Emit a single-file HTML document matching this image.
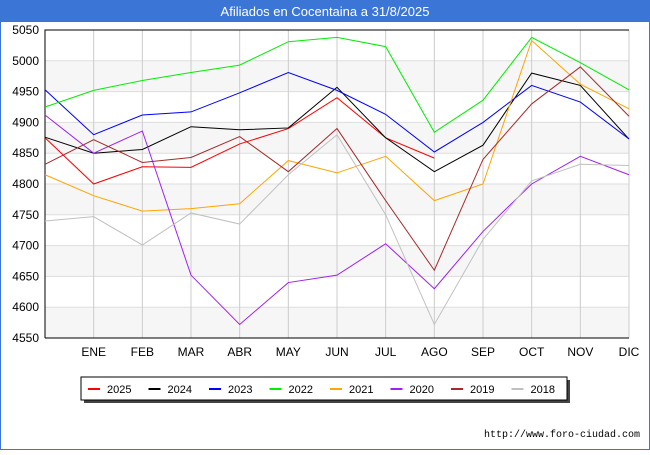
<!DOCTYPE html>
<html><head><meta charset="utf-8"><style>
body{margin:0;background:#fff;font-family:"Liberation Sans","DejaVu Sans",sans-serif}
</style></head><body>
<svg width="650" height="450" xmlns="http://www.w3.org/2000/svg">
<rect x="0" y="0" width="650" height="450" fill="#fff" stroke="#3b75d6" stroke-width="2"/>
<rect x="0" y="0" width="650" height="22" fill="#3b75d6"/>
<text x="325" y="16" text-anchor="middle" fill="#fff" font-size="13">Afiliados en Cocentaina a 31/8/2025</text>
<g id="bands"></g><g id="grid"></g><g id="axes"></g><g id="lines"></g>
<rect x="84" y="380" width="486" height="23" fill="#444"/>
<rect x="81" y="377" width="486" height="23" fill="#fff" stroke="#000"/>
<g id="legend"></g>
<text x="640" y="437" text-anchor="end" font-size="10" fill="#000" font-family="Liberation Mono, monospace">http://www.foro-ciudad.com</text>
</svg>
<script>
const months=["","ENE","FEB","MAR","ABR","MAY","JUN","JUL","AGO","SEP","OCT","NOV","DIC"];
const yTicks=[4550,4600,4650,4700,4750,4800,4850,4900,4950,5000,5050];
const years=["2025","2024","2023","2022","2021","2020","2019","2018"];
const colors=["#ff0000","#000000","#0000ff","#00ee00","#ffa500","#a020f0","#a52a2a","#c0c0c0"];
const s2025=[4875,4800,4828,4827,4865,4890,4940,4875,4842];
const s2024=[4876,4850,4856,4893,4888,4891,4957,4875,4820,4863,4980,4960,4873];
const s2023=[4953,4880,4912,4917,4948,4981,4952,4913,4852,4900,4960,4933,4873];
const s2022=[4925,4952,4968,4981,4993,5031,5038,5023,4884,4936,5038,4997,4953];
const s2021=[4815,4781,4756,4760,4768,4838,4818,4845,4773,4800,5033,4962,4922];
const s2020=[4912,4850,4886,4652,4572,4640,4652,4703,4630,4723,4800,4845,4815];
const s2019=[4832,4872,4835,4843,4877,4820,4890,4773,4660,4840,4930,4990,4910];
const s2018=[4740,4747,4701,4753,4735,4815,4880,4750,4572,4710,4805,4832,4830];
const series=[s2025,s2024,s2023,s2022,s2021,s2020,s2019,s2018];
const NS="http://www.w3.org/2000/svg";
const X0=45,X1=629,Y0=338,Y1=30,ymin=4550,ymax=5050;
const xs=i=>X0+i*(X1-X0)/12;
const ys=v=>Y0-(v-ymin)/(ymax-ymin)*(Y0-Y1);
function mk(t,a,p){const e=document.createElementNS(NS,t);for(const k in a)e.setAttribute(k,a[k]);p.appendChild(e);return e;}
const bands=document.getElementById('bands'),grid=document.getElementById('grid'),axes=document.getElementById('axes'),lines=document.getElementById('lines'),leg=document.getElementById('legend');
for(let i=0;i<yTicks.length-1;i++){if(i%2==0){const r=mk('rect',{x:X0,y:ys(yTicks[i+1]),width:X1-X0,height:ys(yTicks[i])-ys(yTicks[i+1]),fill:'#f6f6f6'},bands);

}}
yTicks.forEach(v=>{const l=mk('line',{x1:X0,x2:X1,y1:ys(v),y2:ys(v),stroke:'#ddd'},grid);


const t=mk('text',{x:X0-6,y:ys(v)+4,'text-anchor':'end','font-size':'12',fill:'#000'},axes);t.textContent=v;

});
months.forEach((m,i)=>{if(i>0){const l=mk('line',{x1:xs(i),x2:xs(i),y1:Y1,y2:Y0,stroke:'#ccc'},grid);

}
const t=mk('text',{x:xs(i),y:Y0+18,'text-anchor':'middle','font-size':'12',fill:'#000'},axes);t.textContent=m;

});
const ax=mk('path',{d:`M${X0},${Y0}V${Y1}H${X1}`,fill:'none',stroke:'#000'},axes);


const bx=mk('line',{x1:X0,x2:X1,y1:Y0,y2:Y0,stroke:'#000'},axes);


series.forEach((s,k)=>{const p=mk('polyline',{points:s.map((v,i)=>xs(i)+','+ys(v)).join(' '),fill:'none',stroke:colors[k],'stroke-width':1},lines);


const lx=88+k*60.5;
const ll=mk('line',{x1:lx,x2:lx+12,y1:389,y2:389,stroke:colors[k],'stroke-width':2},leg);


const lt=mk('text',{x:lx+19,y:393,'font-size':'11',fill:'#000'},leg);lt.textContent=years[k];

});
</script>
</body></html>
